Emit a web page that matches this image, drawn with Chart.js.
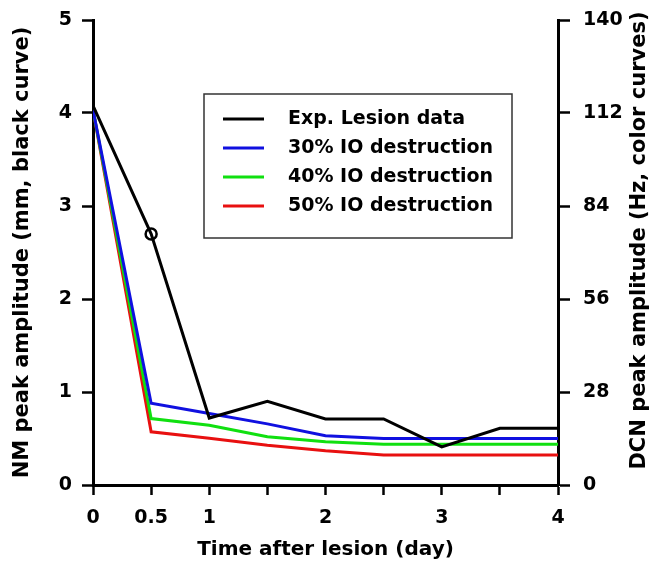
<!DOCTYPE html>
<html>
<head>
<meta charset="utf-8">
<script src="https://cdn.jsdelivr.net/npm/chart.js@4.4.1/dist/chart.umd.min.js"></script>
<style>
  body { margin: 0; background: #fff; }
  #wrap { width: 663px; height: 566px; position: relative; }
</style>
</head>
<body>
<div id="wrap"><canvas id="graph"></canvas></div>
<script>
// days after lesion
const days = [0, 0.5, 1, 1.5, 2, 2.5, 3, 3.5, 4];
const xTickLabels = [0, 0.5, 1, 2, 3, 4];

// NM peak amplitude (mm), left axis
const expLesion = [4.08, 2.7, 0.72, 0.9, 0.71, 0.71, 0.41, 0.61, 0.61];
// DCN peak amplitude (Hz), right axis
const io30 = [113, 24.6, 21.5, 18.4, 14.8, 14, 14, 14, 14];
const io40 = [113, 20, 18, 14.5, 13, 12.3, 12.3, 12.3, 12.3];
const io50 = [113, 16, 14.1, 12, 10.3, 9, 9, 9, 9];

const labels = ["Exp. Lesion data", "30% IO destruction", "40% IO destruction", "50% IO destruction"];
const colors = ["#000000", "#1010e0", "#10e010", "#e81010"];
const rightTitle = "DCN peak amplitude (Hz, color curves)";

const FONT = { family: "'DejaVu Sans'", size: 19, weight: "bold" };
const TITLE_FONT = { family: "'DejaVu Sans'", size: 21, weight: "bold" };

function pts(arr) {
  return arr.map((v, i) => ({ x: days[i], y: v }));
}

// keep fixed axis sizes, tick label padding should not push the plot area
function fixY(width) {
  return (s) => {
    s.width = width;
    s.paddingTop = 0;
    s.paddingBottom = 0;
  };
}

// boxed legend inside the plot + right axis title read bottom-to-top
const extras = {
  id: "extras",
  afterDatasetsDraw(chart) {
    const ctx = chart.ctx;
    const a = chart.chartArea;
    const left = a.left + 111, top = a.top + 74, w = 308, h = 144;
    ctx.save();
    ctx.fillStyle = "#fff";
    ctx.fillRect(left, top, w, h);
    ctx.strokeStyle = "#333";
    ctx.lineWidth = 1.5;
    ctx.strokeRect(left, top, w, h);
    ctx.font = "bold 19px 'DejaVu Sans'";
    ctx.textBaseline = "middle";
    chart.data.datasets.forEach((ds, i) => {
      const y = top + 25 + i * 29;
      ctx.strokeStyle = ds.borderColor;
      ctx.lineWidth = 3;
      ctx.beginPath();
      ctx.moveTo(left + 19, y);
      ctx.lineTo(left + 60, y);
      ctx.stroke();
      ctx.fillStyle = "#000";
      ctx.fillText(ds.label, left + 84, y);
    });
    ctx.restore();
  },
  afterDraw(chart) {
    const ctx = chart.ctx;
    const a = chart.chartArea;
    ctx.save();
    ctx.translate(640, (a.top + a.bottom) / 2 - 12);
    ctx.rotate(-Math.PI / 2);
    ctx.font = "bold 21px 'DejaVu Sans'";
    ctx.fillStyle = "#000";
    ctx.textAlign = "center";
    ctx.textBaseline = "middle";
    ctx.fillText(rightTitle, 0, 0);
    ctx.restore();
  }
};

const common = { fill: false, tension: 0, borderWidth: 3, pointRadius: 0 };

new Chart(document.getElementById("graph"), {
  type: "line",
  data: {
    datasets: [
      Object.assign({}, common, {
        label: labels[0], data: pts(expLesion), borderColor: colors[0], yAxisID: "y",
        pointRadius: [0, 5.5, 0, 0, 0, 0, 0, 0, 0],
        pointBorderWidth: 2.5, pointBorderColor: colors[0], pointBackgroundColor: "rgba(0,0,0,0)"
      }),
      Object.assign({}, common, { label: labels[1], data: pts(io30), borderColor: colors[1], yAxisID: "y1" }),
      Object.assign({}, common, { label: labels[2], data: pts(io40), borderColor: colors[2], yAxisID: "y1" }),
      Object.assign({}, common, { label: labels[3], data: pts(io50), borderColor: colors[3], yAxisID: "y1" }),
    ],
  },
  options: {
    responsive: true,
    maintainAspectRatio: false,
    animation: false,
    events: [],
    layout: { padding: { top: 20, left: 0, right: 0, bottom: 0 } },
    plugins: { legend: { display: false }, tooltip: { enabled: false } },
    scales: {
      x: {
        type: "linear",
        min: 0,
        max: 4,
        afterFit: (s) => { s.height = 81; },
        afterBuildTicks: (s) => {
          s.ticks = days.map((d) => ({ value: d }));
        },
        ticks: {
          color: "#000",
          font: FONT,
          padding: 12,
          maxRotation: 0,
          autoSkip: false,
          callback: (v) => (xTickLabels.includes(v) ? String(v) : ""),
        },
        grid: { drawOnChartArea: false, tickLength: 10, tickWidth: 2.5, tickColor: "#000" },
        border: { color: "#000", width: 3 },
        title: { display: true, text: "Time after lesion (day)", color: "#000", font: { family: "'DejaVu Sans'", size: 20, weight: "bold" }, padding: { top: 0, bottom: 4 } },
      },
      y: {
        position: "left",
        min: 0,
        max: 5,
        afterFit: fixY(93),
        ticks: { stepSize: 1, color: "#000", font: FONT, padding: 10 },
        grid: { drawOnChartArea: false, tickLength: 11, tickWidth: 2.5, tickColor: "#000" },
        border: { color: "#000", width: 3 },
        title: { display: true, text: "NM peak amplitude (mm, black curve)", color: "#000", font: TITLE_FONT, padding: { top: 10, bottom: 4 } },
      },
      y1: {
        position: "right",
        min: 0,
        max: 140,
        afterFit: fixY(105),
        ticks: { stepSize: 28, color: "#000", font: FONT, padding: 13 },
        grid: { drawOnChartArea: false, tickLength: 12, tickWidth: 2.5, tickColor: "#000" },
        border: { color: "#000", width: 3 },
        title: { display: false },
      },
    },
  },
  plugins: [extras],
});
</script>
</body>
</html>
